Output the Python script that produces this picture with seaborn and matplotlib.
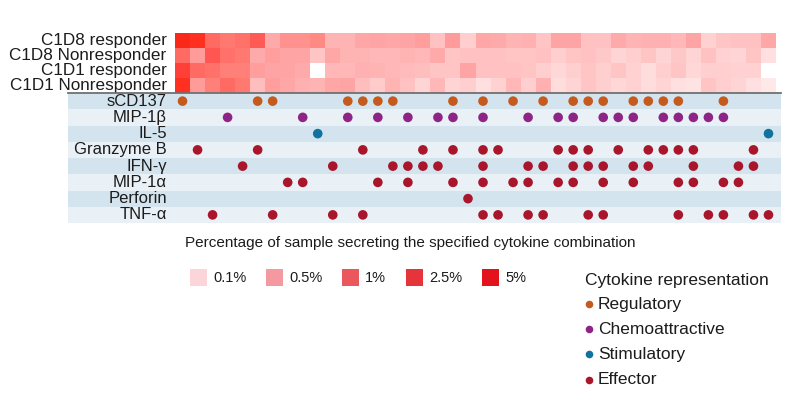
import numpy as np
import pandas as pd
import matplotlib
matplotlib.use("Agg")
import matplotlib.pyplot as plt
import seaborn as sns
from matplotlib.colors import LinearSegmentedColormap
from matplotlib.patches import Rectangle

# ---------------- data ----------------
groups = ["C1D8 responder", "C1D8 Nonresponder", "C1D1 responder", "C1D1 Nonresponder"]

# percentage of sample secreting each of the 40 cytokine combinations
c1d8_responder = [5.0, 4.0, 1.2, 1.0, 1.1, 1.5, 0.45, 0.7, 0.7, 0.8,
                  0.4, 0.4, 0.48, 0.5, 0.48, 0.5, 0.55, 0.32, 0.58, 0.25,
                  0.48, 0.45, 0.4, 0.42, 0.3, 0.5, 0.5, 0.33, 0.33, 0.45,
                  0.4, 0.42, 0.42, 0.38, 0.5, 0.22, 0.3, 0.32, 0.32, 0.48]
c1d8_nonresponder = [1.2, 0.6, 1.6, 1.1, 1.0, 0.45, 0.55, 0.5, 0.5, 0.3,
                     0.48, 0.4, 0.4, 0.38, 0.38, 0.4, 0.38, 0.45, 0.3, 0.32,
                     0.33, 0.33, 0.3, 0.3, 0.33, 0.25, 0.3, 0.33, 0.28, 0.2,
                     0.25, 0.3, 0.2, 0.28, 0.2, 0.32, 0.22, 0.2, 0.3, 0.12]
c1d1_responder = [2.8, 1.2, 1.1, 0.9, 0.9, 0.55, 0.5, 0.5, 0.45, 0.0,
                  0.38, 0.38, 0.42, 0.4, 0.38, 0.36, 0.34, 0.3, 0.3, 0.5,
                  0.33, 0.33, 0.32, 0.3, 0.25, 0.18, 0.25, 0.3, 0.25, 0.3,
                  0.22, 0.15, 0.25, 0.3, 0.18, 0.25, 0.25, 0.22, 0.22, 0.0]
c1d1_nonresponder = [4.0, 0.6, 0.9, 1.2, 1.0, 0.35, 0.55, 0.48, 0.42, 0.4,
                     0.48, 0.5, 0.35, 0.27, 0.4, 0.32, 0.2, 0.38, 0.2, 0.25,
                     0.12, 0.22, 0.38, 0.25, 0.42, 0.15, 0.2, 0.3, 0.25, 0.18,
                     0.22, 0.15, 0.2, 0.12, 0.1, 0.3, 0.25, 0.2, 0.12, 0.08]

cytokines = ["sCD137", "MIP-1β", "IL-5", "Granzyme B", "IFN-γ", "MIP-1α", "Perforin", "TNF-α"]
cytokine_class = ["Regulatory", "Chemoattractive", "Stimulatory", "Effector",
                  "Effector", "Effector", "Effector", "Effector"]

# combination indices (0-39) in which each cytokine is secreted
combo_sCD137 = [0, 5, 6, 11, 12, 13, 14, 18, 20, 22, 24, 26, 27, 28, 30, 31, 32, 33, 36]
combo_MIP1b = [3, 8, 11, 13, 15, 17, 18, 20, 23, 25, 26, 28, 29, 30, 32, 33, 34, 35, 36]
combo_IL5 = [9, 39]
combo_GranzymeB = [1, 5, 12, 16, 18, 20, 21, 25, 26, 27, 29, 31, 32, 33, 34, 38]
combo_IFNg = [4, 10, 14, 15, 16, 17, 20, 23, 24, 26, 27, 28, 30, 31, 34, 37, 38]
combo_MIP1a = [7, 8, 13, 15, 18, 20, 22, 23, 25, 26, 28, 30, 33, 34, 36, 37]
combo_Perforin = [19]
combo_TNFa = [2, 6, 10, 12, 20, 21, 23, 24, 27, 28, 33, 35, 36, 38, 39]
combos = [combo_sCD137, combo_MIP1b, combo_IL5, combo_GranzymeB,
          combo_IFNg, combo_MIP1a, combo_Perforin, combo_TNFa]

legend_levels = ["0.1%", "0.5%", "1%", "2.5%", "5%"]
classes = ["Regulatory", "Chemoattractive", "Stimulatory", "Effector"]

# ---------------- styles ----------------
class_colors = {"Regulatory": "#c55a1f", "Chemoattractive": "#8e2586",
                "Stimulatory": "#0f72a0", "Effector": "#a9162c"}
legend_swatch_colors = ["#fcd5da", "#f3999f", "#ea585e", "#e5343a", "#e3131b"]
band_colors = ["#d4e4ee", "#e9f1f7"]
text_color = "#1c1c1c"

cmap_nodes = [(0.0, "#ffffff"), (0.1, "#ffe2e2"), (0.25, "#ffcccc"), (0.5, "#ffa2a2"),
              (0.9, "#ff8078"), (1.2, "#ff6a62"), (1.6, "#ff5550"), (2.8, "#ff4038"),
              (4.0, "#ff3020"), (5.0, "#fa2818")]
cmap = LinearSegmentedColormap.from_list("heat", [(v / 5.0, c) for v, c in cmap_nodes])

sns.set_style("white")
plt.rcParams["font.family"] = ["Liberation Sans", "DejaVu Sans"]

W, H = 791, 394
fig = plt.figure(figsize=(W / 100, H / 100), dpi=100)

# ---------------- heatmap ----------------
n_cols = len(c1d8_responder)
heat_df = pd.DataFrame([c1d8_responder, c1d8_nonresponder, c1d1_responder, c1d1_nonresponder],
                       index=groups, columns=range(n_cols))
hx0, hx1 = 175, 776
ax_h = fig.add_axes([hx0 / W, 1 - 93 / H, (hx1 - hx0) / W, 60 / H])
sns.heatmap(heat_df, ax=ax_h, cmap=cmap, vmin=0, vmax=5, cbar=False,
            xticklabels=False, yticklabels=True, linewidths=0)
ax_h.set_xlabel("")
ax_h.set_ylabel("")
ax_h.tick_params(axis="y", length=0, pad=6, labelsize=12.3, labelcolor=text_color)
for t in ax_h.get_yticklabels():
    t.set_rotation(0)

# ---------------- dot matrix ----------------
px_per_col = (hx1 - hx0) / n_cols
dx0, dx1 = 68, 781
ax_d = fig.add_axes([dx0 / W, 1 - 223 / H, (dx1 - dx0) / W, 130 / H])
rows = []
for r, (name, cls, idx) in enumerate(zip(cytokines, cytokine_class, combos)):
    for i in idx:
        rows.append({"x": i + 0.5, "row": r, "cls": cls})
dots_df = pd.DataFrame(rows)

for r in range(len(cytokines)):
    ax_d.axhspan(r - 0.5, r + 0.5, color=band_colors[r % 2], zorder=0, lw=0)
sns.scatterplot(data=dots_df, x="x", y="row", hue="cls", palette=class_colors,
                s=48, linewidth=0, ax=ax_d, legend=False, zorder=3)
ax_d.set_xlim((dx0 - hx0) / px_per_col, (dx1 - hx0) / px_per_col)
ax_d.set_ylim(len(cytokines) - 0.5, -0.5)
ax_d.set_xticks([])
ax_d.set_yticks([])
ax_d.set_xlabel("")
ax_d.set_ylabel("")
for s in ["left", "right", "bottom"]:
    ax_d.spines[s].set_visible(False)
ax_d.spines["top"].set_color("#707070")
ax_d.spines["top"].set_linewidth(1.3)
for r, name in enumerate(cytokines):
    ax_d.text((167 - hx0) / px_per_col, r, name, ha="right", va="center",
              fontsize=12, color=text_color)

# ---------------- legends (overlay in pixel coordinates) ----------------
ax_o = fig.add_axes([0, 0, 1, 1])
ax_o.set_xlim(0, W)
ax_o.set_ylim(H, 0)
ax_o.axis("off")
ax_o.patch.set_visible(False)

ax_o.text(185, 243, "Percentage of sample secreting the specified cytokine combination",
          ha="left", va="center", fontsize=11, color=text_color)
swatch_x = [190, 266, 342, 406, 482]
for x, lab, col in zip(swatch_x, legend_levels, legend_swatch_colors):
    ax_o.add_patch(Rectangle((x, 268.5), 17, 17, facecolor=col, edgecolor="none"))
    ax_o.text(x + 23, 277.5, lab, ha="left", va="center", fontsize=10.5, color=text_color)

ax_o.text(585, 280, "Cytokine representation", ha="left", va="center",
          fontsize=12.5, color=text_color)
item_y = [304, 329, 354, 379.5]
for y, cls in zip(item_y, classes):
    ax_o.scatter([589], [y], s=30, color=class_colors[cls], linewidths=0)
    ax_o.text(598, y, cls, ha="left", va="center", fontsize=12.5, color=text_color)

fig.savefig("out.png", dpi=100)
